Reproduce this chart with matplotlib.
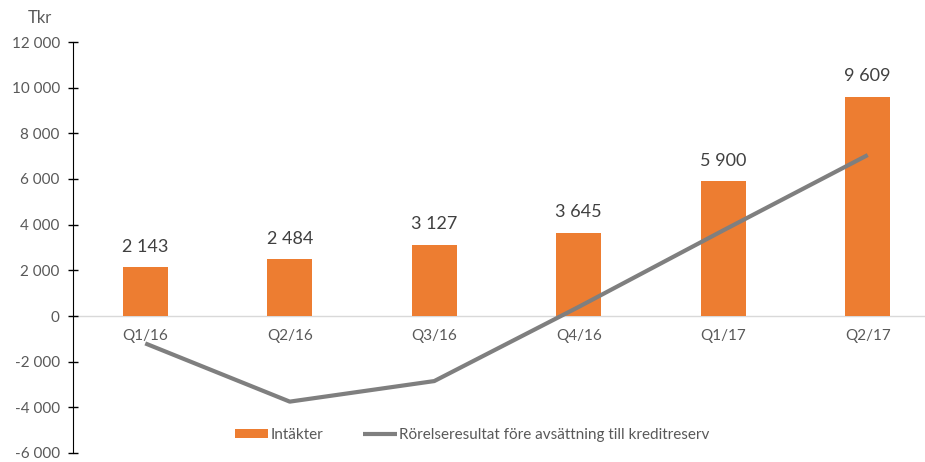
import matplotlib
matplotlib.use("Agg")
import matplotlib.pyplot as plt
from matplotlib.ticker import FuncFormatter, MultipleLocator

categories = ["Q1/16", "Q2/16", "Q3/16", "Q4/16", "Q1/17", "Q2/17"]
intakter = [2143, 2484, 3127, 3645, 5900, 9609]
rorelse = [-1200, -3750, -2850, 400, 3750, 7050]
bar_labels = ["2 143", "2 484", "3 127", "3 645", "5 900", "9 609"]

plt.rcParams['font.family'] = ['Lato', 'DejaVu Sans']
gray_txt = "#595959"
orange = "#ED7D31"
line_gray = "#7F7F7F"

fig = plt.figure(figsize=(9.25, 4.62), dpi=100)
top_px, bot_px = 42, 453
ax = fig.add_axes([73/925, 1-bot_px/462, 1-73/925, (bot_px-top_px)/462])

x = list(range(len(categories)))
bars = ax.bar(x, intakter, width=0.31, color=orange, label="Intäkter", zorder=2)
line, = ax.plot(x, rorelse, color=line_gray, lw=3.0, solid_capstyle='butt',
                label="Rörelseresultat före avsättning till kreditreserv", zorder=3)

for xi, v, t in zip(x, intakter, bar_labels):
    ax.annotate(t, (xi, v), xytext=(0, 9), textcoords="offset points",
                ha="center", va="bottom", fontsize=13, color="#404040")

ax.axhline(0, color="#D9D9D9", lw=1, zorder=1)
ax.set_xlim(-0.5, -0.5 + (925-73)/144.5)
ax.set_ylim(-6000, 12000)
ax.yaxis.set_major_locator(MultipleLocator(2000))
ax.yaxis.set_major_formatter(FuncFormatter(lambda v, p: f"{int(v):,}".replace(",", " ")))
ax.tick_params(axis='y', direction='inout', length=7, width=1, colors='black',
               labelcolor=gray_txt, labelsize=11, pad=6)
ax.set_xticks([])
for xi, c in zip(x, categories):
    ax.text(xi, -550, c, ha="center", va="top", fontsize=11, color=gray_txt)

for s in ["top", "right", "bottom"]:
    ax.spines[s].set_visible(False)
ax.spines["left"].set_color("black")

fig.text(40/925, 1-18/462, "Tkr", ha="center", va="center", fontsize=12, color=gray_txt)

leg = ax.legend(handles=[bars, line], loc="center",
                bbox_to_anchor=((472-73)/852, (bot_px-435)/(bot_px-top_px)),
                ncol=2, frameon=False, fontsize=11, handlelength=2.2, handleheight=0.6,
                handletextpad=0.15, columnspacing=2.6)
for t in leg.get_texts():
    t.set_color(gray_txt)

fig.savefig("out.png", dpi=100)
